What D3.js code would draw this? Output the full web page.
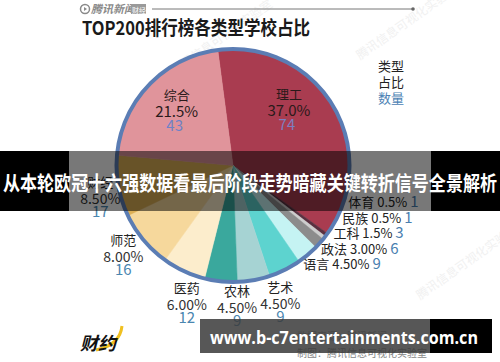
<!DOCTYPE html>
<html>
<head>
<meta charset="utf-8">
<script src="https://cdn.jsdelivr.net/npm/d3@7"></script>
<style>
  html, body { margin: 0; padding: 0; background: #fff; }
  svg { display: block; font-family: "Noto Sans CJK SC", "Noto Sans", sans-serif; }
</style>
</head>
<body>
<div id="chart"></div>
<script>
// school types, clockwise from the top
var categories = ['理工', '体育', '民族', '工科', '政法', '语言', '艺术', '农林', '医药', '师范', '财经', '综合'];
var counts = [74, 1, 1, 3, 6, 9, 9, 9, 12, 16, 17, 43];
var shares = ['37.0%', '0.5%', '0.5%', '1.5%', '3.00%', '4.50%', '4.50%', '4.50%', '6.00%', '8.00%', '8.50%', '21.5%'];
var colors = ['#a93c50', '#5a3040', '#cdcdcd', '#8c8c8c', '#c5f3f3', '#5dd3cf', '#a6d3d3', '#3aa89d', '#fcedcc', '#f6d89c', '#deb056', '#e0949b'];

var insideLabels = ['理工', '综合'];
var listLabels = ['语言', '政法', '工科', '民族', '体育'];   // stacked bottom-up on the right
var outerLabels = ['艺术', '农林', '医药', '师范', '财经'];
// hand nudges so labels don't sit exactly on the slice mid angle
var nudge = { '理工': [-11, -14], '艺术': [22, -2], '农林': [19, 0], '医药': [14, 10], '财经': [8, 8] };

var width = 500, height = 362;
var cx = 233, cy = 165.5, r = 116.5;
var start = -7.5 * Math.PI / 180;

var rows = categories.map(function(c, i) {
    return { name: c, count: counts[i], share: shares[i], color: colors[i] };
});

var svg = d3.select('#chart').append('svg')
    .attr('width', width)
    .attr('height', height);

// faint watermarks
[[175, 75], [360, 60], [420, 300]].forEach(function(p) {
    svg.append('text')
        .attr('transform', 'translate(' + p[0] + ',' + p[1] + ') rotate(-35)')
        .attr('font-size', 12)
        .attr('fill', '#f1f1f1')
        .text('腾讯信息可视化实验室');
});

// header
var head = svg.append('g').attr('fill', '#8a8a8a');
head.append('circle').attr('cx', 85).attr('cy', 9).attr('r', 4.5)
    .attr('fill', 'none').attr('stroke', '#8a8a8a').attr('stroke-width', 1.5);
head.append('path').attr('d', 'M84,7 L87,9 L84,11 Z');
head.append('text').attr('x', 91).attr('y', 13).attr('font-size', 11)
    .attr('font-style', 'italic').attr('font-weight', 'bold').text('腾讯新闻');
head.append('rect').attr('x', 131).attr('y', 4).attr('width', 15).attr('height', 10).attr('fill', '#9a9a9a');
head.append('text').attr('x', 132).attr('y', 12.5).attr('font-size', 7).attr('fill', '#fff').text('财经');
head.append('line').attr('x1', 152).attr('x2', 413).attr('y1', 9).attr('y2', 9)
    .attr('stroke', '#777').attr('stroke-width', 1);
head.append('circle').attr('cx', 413).attr('cy', 9).attr('r', 1.8).attr('fill', '#666');

svg.append('text')
    .attr('x', 82).attr('y', 35)
    .attr('font-size', 19).attr('font-weight', 'bold').attr('fill', '#1a1a1a')
    .attr('textLength', 228).attr('lengthAdjust', 'spacingAndGlyphs')
    .text('TOP200排行榜各类型学校占比');

// pie
var pie = d3.pie().sort(null).value(function(d) { return d.count; })
    .startAngle(start).endAngle(start + 2 * Math.PI);
var arcs = pie(rows);
var arc = d3.arc().innerRadius(0).outerRadius(r);

var g = svg.append('g').attr('transform', 'translate(' + cx + ',' + cy + ')');
g.selectAll('path.slice').data(arcs).enter().append('path')
    .attr('class', 'slice')
    .attr('d', arc)
    .attr('fill', function(d) { return d.data.color; })
    .attr('stroke', function(d) { return d.data.color; })
    .attr('stroke-width', 0.5);
g.append('circle').attr('r', r).attr('fill', 'none')
    .attr('stroke', '#5b7db4').attr('stroke-width', 4);

function byName(n) { return arcs.filter(function(a) { return a.data.name === n; })[0]; }

// labels inside the two big slices
var inArc = d3.arc().innerRadius(78).outerRadius(78);
insideLabels.forEach(function(n) {
    var a = byName(n), c = inArc.centroid(a), o = nudge[n] || [0, 0];
    var x = cx + c[0] + o[0], y = cy + c[1] + o[1];
    var t = svg.append('g').attr('text-anchor', 'middle');
    t.append('text').attr('x', x).attr('y', y - 12).attr('font-size', 13).attr('fill', '#2a1a1a').text(n);
    t.append('text').attr('x', x).attr('y', y + 5).attr('font-size', 15).attr('fill', '#2a1a1a').text(a.data.share);
    t.append('text').attr('x', x - 2).attr('y', y + 19).attr('font-size', 15)
        .attr('fill', n === '理工' ? '#7d7fbf' : '#6f82c6').text(a.data.count);
});

// labels around the bottom
var outArc = d3.arc().innerRadius(143).outerRadius(143);
outerLabels.forEach(function(n) {
    var a = byName(n), c = outArc.centroid(a), o = nudge[n] || [0, 0];
    var x = cx + c[0] + o[0], y = cy + c[1] + o[1];
    var t = svg.append('g').attr('text-anchor', 'middle');
    t.append('text').attr('x', x).attr('y', y - 12).attr('font-size', 13).attr('fill', '#222').text(n);
    t.append('text').attr('x', x).attr('y', y + 5).attr('font-size', 14).attr('fill', '#333').text(a.data.share);
    t.append('text').attr('x', x).attr('y', y + 18).attr('font-size', 15).attr('fill', '#4a86b0').text(a.data.count);
});

// stacked list on the right, each starting on a circle just outside the pie
listLabels.forEach(function(n, i) {
    var a = byName(n);
    var ym = cy + 98.5 - i * 15.5;
    var x = cx + Math.sqrt(121 * 121 - (ym - cy) * (ym - cy));
    var t = svg.append('text').attr('x', x).attr('y', ym + 5).attr('font-size', 13).attr('fill', '#222');
    t.append('tspan').text(n + ' ' + a.data.share);
    t.append('tspan').attr('dx', 3).attr('font-size', 15).attr('fill', '#4a7fb0').text(a.data.count);
});

// legend key
var key = svg.append('g').attr('font-size', 13);
key.append('text').attr('x', 378).attr('y', 71).attr('fill', '#222').text('类型');
key.append('text').attr('x', 378).attr('y', 87).attr('fill', '#222').text('占比');
key.append('text').attr('x', 378).attr('y', 103).attr('fill', '#4c82b4').text('数量');

// footer
svg.append('text').attr('x', 297).attr('y', 340).attr('font-size', 10).attr('fill', '#999').text('数据来源：腾讯新闻');
svg.append('text').attr('x', 297).attr('y', 357).attr('font-size', 10).attr('fill', '#888').text('制图：腾讯信息可视化实验室');
var logo = svg.append('g');
logo.append('path').attr('d', 'M96,350 Q120,345 122,326').attr('fill', 'none')
    .attr('stroke', '#f0c020').attr('stroke-width', 3);
logo.append('text').attr('x', 80).attr('y', 350).attr('font-size', 18)
    .attr('font-style', 'italic').attr('font-weight', 'bold').attr('fill', '#111').text('财约');

// overlay banner
svg.append('rect').attr('x', 0).attr('y', 151).attr('width', 500).attr('height', 60).attr('fill', '#000').attr('opacity', 0.53);
svg.append('rect').attr('x', 0).attr('y', 151).attr('width', 69).attr('height', 60).attr('fill', '#000');
svg.append('rect').attr('x', 431).attr('y', 151).attr('width', 69).attr('height', 60).attr('fill', '#000');
svg.append('text')
    .attr('x', 3).attr('y', 191)
    .attr('font-size', 20).attr('font-weight', 'bold').attr('fill', '#fff')
    .attr('textLength', 494).attr('lengthAdjust', 'spacingAndGlyphs')
    .text('从本轮欧冠十六强数据看最后阶段走势暗藏关键转折信号全景解析');

// url box
svg.append('rect').attr('x', 200).attr('y', 319).attr('width', 230).attr('height', 34).attr('fill', '#3a3a3a').attr('opacity', 0.85);
svg.append('rect').attr('x', 430).attr('y', 319).attr('width', 62).attr('height', 34).attr('fill', '#000');
svg.append('text')
    .attr('x', 210).attr('y', 344)
    .attr('font-family', '"Open Sans", sans-serif')
    .attr('font-size', 17).attr('font-weight', 'bold').attr('fill', '#fff')
    .attr('textLength', 268).attr('lengthAdjust', 'spacingAndGlyphs')
    .text('www.b-c7entertainments.com.cn');
</script>
</body>
</html>
